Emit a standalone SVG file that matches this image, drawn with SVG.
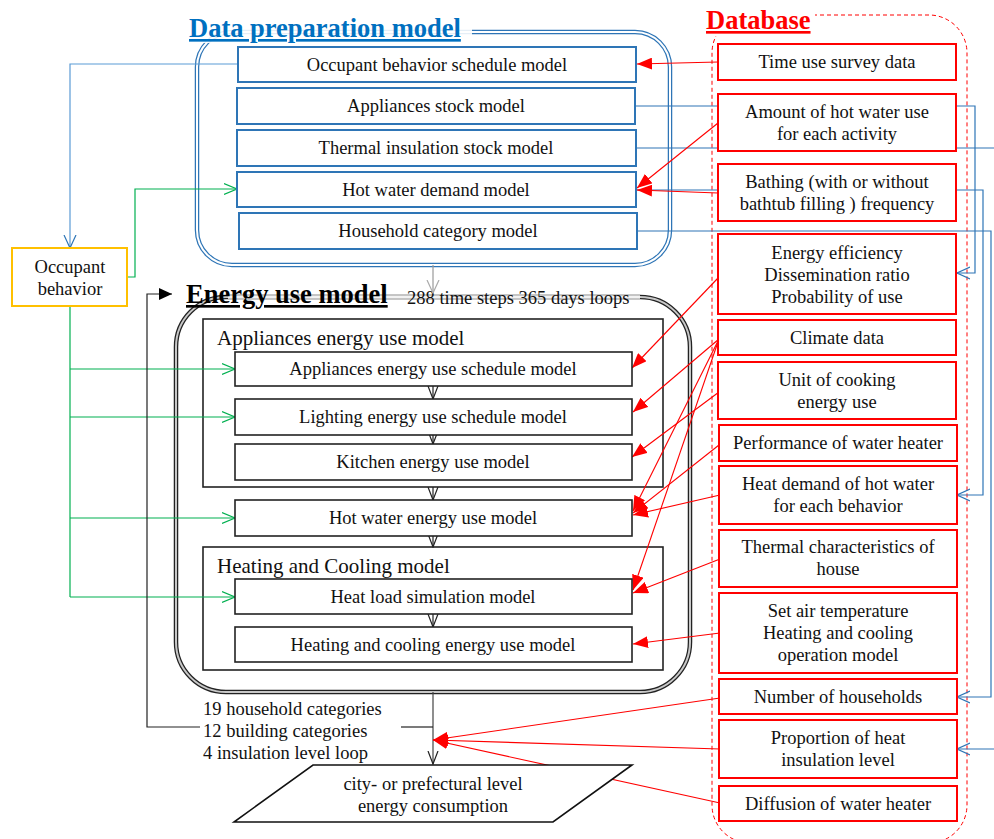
<svg xmlns="http://www.w3.org/2000/svg" width="994" height="839" viewBox="0 0 994 839">
<style>
text{font-family:"Liberation Serif","Times New Roman",serif;font-size:18.5px;fill:#111;text-anchor:middle}
.title{font-size:26.5px;font-weight:bold;text-decoration:underline;text-anchor:start}
.lbl{font-size:21px;text-anchor:start}
.st{text-anchor:start}
.pb{fill:#fff;stroke:#2E75B6;stroke-width:2}
.db{fill:#fff;stroke:#FF0000;stroke-width:2}
.eb{fill:#fff;stroke:#222;stroke-width:1.6}
.grp{fill:none;stroke:#222;stroke-width:1.6}
.red{stroke:#FF0000;stroke-width:1.1;fill:none;marker-end:url(#ra)}
.blue{stroke:#2E75B6;stroke-width:1.2;fill:none;marker-end:url(#ba)}
.green{stroke:#00B050;stroke-width:1.2;fill:none}
.ga{marker-end:url(#gra)}
.blk{stroke:#222;stroke-width:1.2;fill:none}
</style>
<defs>
<marker id="ra" markerUnits="userSpaceOnUse" markerWidth="16" markerHeight="12" refX="15" refY="6" orient="auto"><path d="M0,0 L15,6 L0,12 z" fill="#FF0000"/></marker>
<marker id="ba" markerUnits="userSpaceOnUse" markerWidth="14" markerHeight="14" refX="13" refY="7" orient="auto"><path d="M0,1 L13,7 L0,13" fill="none" stroke="#2E75B6" stroke-width="1.2"/></marker>
<marker id="gra" markerUnits="userSpaceOnUse" markerWidth="14" markerHeight="14" refX="13" refY="7" orient="auto"><path d="M0,1.5 L13,7 L0,12.5" fill="none" stroke="#00B050" stroke-width="1.2"/></marker>
<marker id="ka" markerUnits="userSpaceOnUse" markerWidth="14" markerHeight="12" refX="13" refY="6" orient="auto"><path d="M0,1 L13,6 L0,11" fill="none" stroke="#222" stroke-width="1.2"/></marker>
<marker id="gya" markerUnits="userSpaceOnUse" markerWidth="14" markerHeight="14" refX="13" refY="7" orient="auto"><path d="M0,1 L13,7 L0,13" fill="none" stroke="#aaa" stroke-width="1.2"/></marker>
<marker id="kf" markerUnits="userSpaceOnUse" markerWidth="14" markerHeight="12" refX="13" refY="6" orient="auto"><path d="M0,0 L13,6 L0,12 z" fill="#000"/></marker>
</defs>
<rect width="994" height="839" fill="#fff"/>

<!-- containers -->
<g id="data-preparation-model">
<rect x="197" y="32" width="473" height="233" rx="35" fill="none" stroke="#2E75B6" stroke-width="4.5"/>
<rect x="197" y="32" width="473" height="233" rx="35" fill="none" stroke="#fff" stroke-width="2"/>
<rect x="186" y="12" width="286" height="31" fill="#fff" opacity="0.88"/>
<text x="189" y="37" class="title" style="fill:#0070C0">Data preparation model</text>
</g>
<g id="database">
<rect x="712" y="15" width="255" height="828" rx="38" fill="none" stroke="#FF0000" stroke-width="1" stroke-dasharray="4,3"/>
<rect x="703" y="6" width="112" height="30" fill="#fff"/>
<text x="706" y="29" class="title" style="fill:#FF0000">Database</text>
</g>
<g id="energy-use-model">
<rect x="176" y="297" width="514" height="395" rx="50" fill="none" stroke="#222" stroke-width="4.5"/>
<rect x="176" y="297" width="514" height="395" rx="50" fill="none" stroke="#c8c8c8" stroke-width="2"/>
<line x1="228" y1="297" x2="640" y2="297" stroke="#c4c4c4" stroke-width="4.6"/>
<line x1="228" y1="297" x2="640" y2="297" stroke="#f2f2f2" stroke-width="2"/>
<text x="186" y="303" class="title" style="fill:#000">Energy use model</text>
<text x="407" y="304" class="st">288 time steps 365 days loops</text>
</g>
<g id="appliances-group">
<rect x="203" y="319" width="460" height="168" class="grp"/>
<text x="217" y="345" class="lbl">Appliances energy use model</text>
</g>
<g id="heating-cooling-group">
<rect x="203" y="547" width="460" height="123" class="grp"/>
<text x="217" y="573" class="lbl">Heating and Cooling model</text>
</g>

<!-- connectors -->
<g id="connectors">
<polyline points="238,64 70,64 70,248" fill="none" stroke="#5B9BD5" stroke-width="1.2" marker-end="url(#ba)"/>
<polyline points="636,106 975,106 975,273 957,273" class="blue"/>
<polyline points="636,148 994,148" fill="none" stroke="#2E75B6" stroke-width="1.2"/>
<polyline points="636,190 983,190 983,495 957,495" class="blue"/>
<polyline points="637,231 991,231 991,697 957,697" class="blue"/>
<polyline points="994,749 957,749" class="blue"/>
<polyline points="127,277 135,277 135,189 237,189" class="green ga"/>
<line x1="70" y1="306" x2="70" y2="597" class="green"/>
<line x1="70" y1="369" x2="235" y2="369" class="green ga"/>
<line x1="70" y1="417" x2="235" y2="417" class="green ga"/>
<line x1="70" y1="518" x2="235" y2="518" class="green ga"/>
<line x1="70" y1="597" x2="235" y2="597" class="green ga"/>
<line x1="433" y1="265" x2="433" y2="293" stroke="#999" stroke-width="1.2" marker-end="url(#gya)"/>
<line x1="433" y1="386" x2="433" y2="399" class="blk" marker-end="url(#ka)"/>
<line x1="433" y1="435" x2="433" y2="444" class="blk" marker-end="url(#ka)"/>
<line x1="433" y1="487" x2="433" y2="500" class="blk" marker-end="url(#ka)"/>
<line x1="433" y1="536" x2="433" y2="547" class="blk" marker-end="url(#ka)"/>
<line x1="433" y1="614" x2="433" y2="627" class="blk" marker-end="url(#ka)"/>
<line x1="433" y1="692" x2="433" y2="764" stroke="#444" stroke-width="1.2" marker-end="url(#ka)"/>
<polyline points="433,727 401,727" class="blk"/>
<polyline points="200,727 147,727 147,294 172,294" class="blk" marker-end="url(#kf)"/>
<line x1="718" y1="62" x2="637" y2="64" class="red"/>
<line x1="718" y1="123" x2="637" y2="188" class="red"/>
<line x1="718" y1="193" x2="637" y2="190" class="red"/>
<line x1="719" y1="277" x2="632" y2="368" class="red"/>
<line x1="719" y1="339" x2="633" y2="412" class="red"/>
<line x1="719" y1="339" x2="633" y2="511" class="red"/>
<line x1="719" y1="339" x2="633" y2="590" class="red"/>
<line x1="719" y1="392" x2="632" y2="457" class="red"/>
<line x1="719" y1="445" x2="633" y2="513" class="red"/>
<line x1="720" y1="495" x2="633" y2="515" class="red"/>
<line x1="720" y1="559" x2="633" y2="593" class="red"/>
<line x1="720" y1="633" x2="633" y2="644" class="red"/>
<line x1="720" y1="698" x2="433" y2="740" class="red"/>
<line x1="720" y1="749" x2="433" y2="740" class="red"/>
<line x1="720" y1="803" x2="433" y2="740" class="red"/>
</g>

<g id="occupant-behavior-schedule-model"><rect x="238" y="47" width="398" height="35" class="pb"/><text x="437" y="71">Occupant behavior schedule model</text></g>
<g id="appliances-stock-model"><rect x="237" y="88" width="398" height="36" class="pb"/><text x="436" y="112">Appliances stock model</text></g>
<g id="thermal-insulation-stock-model"><rect x="237" y="130" width="399" height="36" class="pb"/><text x="436" y="154">Thermal insulation stock model</text></g>
<g id="hot-water-demand-model"><rect x="237" y="172" width="399" height="35" class="pb"/><text x="436" y="196">Hot water demand model</text></g>
<g id="household-category-model"><rect x="239" y="213" width="398" height="36" class="pb"/><text x="438" y="237">Household category model</text></g>

<g id="occupant-behavior"><rect x="12" y="248" width="115" height="58" fill="#fff" stroke="#FFC000" stroke-width="2"/><text x="70" y="273">Occupant</text><text x="70" y="295">behavior</text></g>

<g id="appliances-energy-use-schedule-model"><rect x="235" y="352" width="397" height="34" class="eb"/><text x="433" y="375">Appliances energy use schedule model</text></g>
<g id="lighting-energy-use-schedule-model"><rect x="235" y="399" width="397" height="36" class="eb"/><text x="433" y="423">Lighting energy use schedule model</text></g>
<g id="kitchen-energy-use-model"><rect x="235" y="444" width="397" height="36" class="eb"/><text x="433" y="468">Kitchen energy use model</text></g>
<g id="hot-water-energy-use-model"><rect x="235" y="500" width="397" height="36" class="eb"/><text x="433" y="524">Hot water energy use model</text></g>
<g id="heat-load-simulation-model"><rect x="235" y="579" width="397" height="35" class="eb"/><text x="433" y="603">Heat load simulation model</text></g>
<g id="heating-cooling-energy-use-model"><rect x="235" y="627" width="397" height="35" class="eb"/><text x="433" y="651">Heating and cooling energy use model</text></g>

<g id="loop-labels">
<text x="203" y="715" class="st">19 household categories</text>
<text x="203" y="737" class="st">12 building categories</text>
<text x="203" y="759" class="st">4 insulation level loop</text>
</g>

<g id="city-energy-consumption"><polygon points="313,765 632,765 553,822 234,822" fill="#fff" stroke="#111" stroke-width="1.6"/><text x="433" y="790">city- or prefectural level</text><text x="433" y="812">energy consumption</text></g>

<g id="time-use-survey-data"><rect x="718" y="44" width="238" height="36" class="db"/><text x="837" y="68">Time use survey data</text></g>
<g id="amount-hot-water-use"><rect x="718" y="94" width="238" height="57" class="db"/><text x="837" y="118">Amount of hot water use</text><text x="837" y="140">for each activity</text></g>
<g id="bathing-frequency"><rect x="718" y="164" width="238" height="57" class="db"/><text x="837" y="188">Bathing (with or without</text><text x="837" y="210">bathtub filling ) frequency</text></g>
<g id="energy-efficiency"><rect x="718" y="234" width="238" height="80" class="db"/><text x="837" y="259">Energy efficiency</text><text x="837" y="281">Dissemination ratio</text><text x="837" y="303">Probability of use</text></g>
<g id="climate-data"><rect x="718" y="320" width="238" height="35" class="db"/><text x="837" y="344">Climate data</text></g>
<g id="unit-cooking-energy-use"><rect x="718" y="362" width="238" height="57" class="db"/><text x="837" y="386">Unit of cooking</text><text x="837" y="408">energy use</text></g>
<g id="performance-water-heater"><rect x="719" y="425" width="238" height="36" class="db"/><text x="838" y="449">Performance of water heater</text></g>
<g id="heat-demand-hot-water"><rect x="719" y="466" width="238" height="58" class="db"/><text x="838" y="490">Heat demand of hot water</text><text x="838" y="512">for each behavior</text></g>
<g id="thermal-characteristics"><rect x="719" y="530" width="238" height="57" class="db"/><text x="838" y="553">Thermal characteristics of</text><text x="838" y="575">house</text></g>
<g id="set-air-temperature"><rect x="719" y="593" width="238" height="80" class="db"/><text x="838" y="617">Set air temperature</text><text x="838" y="639">Heating and cooling</text><text x="838" y="661">operation model</text></g>
<g id="number-of-households"><rect x="719" y="679" width="238" height="35" class="db"/><text x="838" y="703">Number of households</text></g>
<g id="proportion-heat-insulation"><rect x="719" y="720" width="238" height="58" class="db"/><text x="838" y="744">Proportion of heat</text><text x="838" y="766">insulation level</text></g>
<g id="diffusion-water-heater"><rect x="719" y="786" width="238" height="35" class="db"/><text x="838" y="810">Diffusion of water heater</text></g>
</svg>
